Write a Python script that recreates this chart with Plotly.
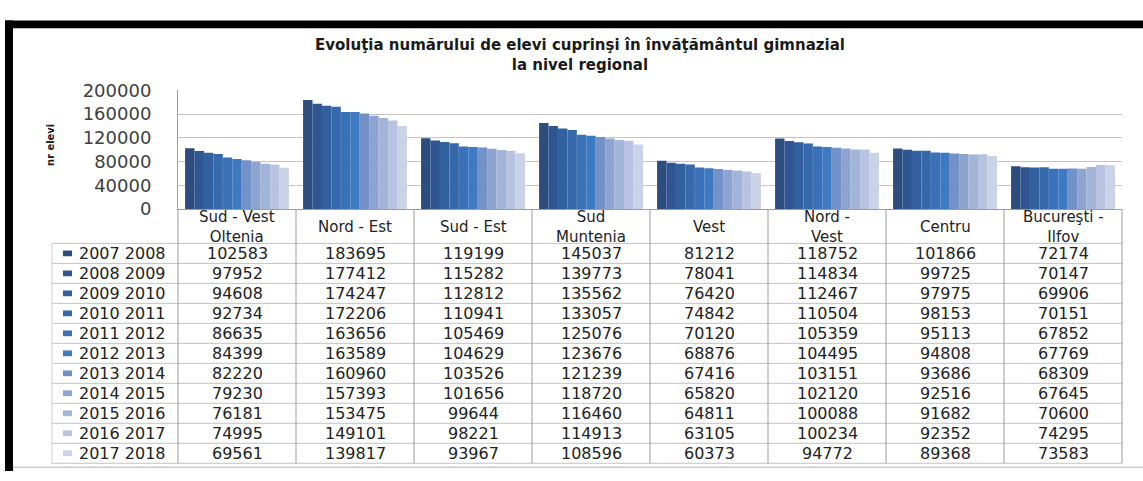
import plotly.graph_objects as go

# ---------------- data ----------------
regions = ["Sud - Vest Oltenia", "Nord - Est", "Sud - Est", "Sud Muntenia",
           "Vest", "Nord - Vest", "Centru", "Bucureşti - Ilfov"]
region_labels = ["Sud - Vest<br>Oltenia", "Nord - Est", "Sud - Est", "Sud<br>Muntenia",
                 "Vest", "Nord -<br>Vest", "Centru", "Bucureşti -<br>Ilfov"]
years = ["2007 2008", "2008 2009", "2009 2010", "2010 2011", "2011 2012", "2012 2013",
         "2013 2014", "2014 2015", "2015 2016", "2016 2017", "2017 2018"]

v_2007_2008 = [102583, 183695, 119199, 145037, 81212, 118752, 101866, 72174]
v_2008_2009 = [97952, 177412, 115282, 139773, 78041, 114834, 99725, 70147]
v_2009_2010 = [94608, 174247, 112812, 135562, 76420, 112467, 97975, 69906]
v_2010_2011 = [92734, 172206, 110941, 133057, 74842, 110504, 98153, 70151]
v_2011_2012 = [86635, 163656, 105469, 125076, 70120, 105359, 95113, 67852]
v_2012_2013 = [84399, 163589, 104629, 123676, 68876, 104495, 94808, 67769]
v_2013_2014 = [82220, 160960, 103526, 121239, 67416, 103151, 93686, 68309]
v_2014_2015 = [79230, 157393, 101656, 118720, 65820, 102120, 92516, 67645]
v_2015_2016 = [76181, 153475, 99644, 116460, 64811, 100088, 91682, 70600]
v_2016_2017 = [74995, 149101, 98221, 114913, 63105, 100234, 92352, 74295]
v_2017_2018 = [69561, 139817, 93967, 108596, 60373, 94772, 89368, 73583]

series = [v_2007_2008, v_2008_2009, v_2009_2010, v_2010_2011, v_2011_2012, v_2012_2013,
          v_2013_2014, v_2014_2015, v_2015_2016, v_2016_2017, v_2017_2018]

colors = ["#2C4D7E", "#2F5690", "#33609F", "#3668AC", "#3A71B8", "#3E7AC2",
          "#7390C7", "#8DA3D0", "#A3B4D9", "#B7C3E0", "#C9D2E6"]

title_text = "Evoluţia numărului de elevi cuprinşi în învăţământul gimnazial<br>la nivel regional"
y_title = "nr elevi"

# ---------------- layout helpers (pixel geometry) ----------------
W, H = 1143, 481
PLOT_L, PLOT_R, PLOT_T, PLOT_B = 178, 1122, 83, 207
TAB_L = 52
HEAD_B = 243
ROW_H = 20.9


def px(x):
    return x / W


def py(y):
    return 1 - y / H


fig = go.Figure()

for name, vals, col in zip(years, series, colors):
    fig.add_trace(go.Bar(x=regions, y=vals, name=name,
                         marker=dict(color=col, line=dict(width=0)),
                         showlegend=False))

annotations = []
shapes = []

ncat = len(regions)
nrow = len(years)
cat_w = (PLOT_R - PLOT_L) / ncat
tab_bottom = HEAD_B + nrow * ROW_H

# ---- table grid lines ----
hline_col = "#C2C2C2"
vline_col = "#9C9C9C"
for k in range(nrow + 1):
    y = HEAD_B + k * ROW_H
    shapes.append(dict(type="line", xref="paper", yref="paper",
                       x0=px(TAB_L), x1=px(PLOT_R), y0=py(y), y1=py(y),
                       line=dict(color=hline_col, width=1)))
for i in range(ncat + 1):
    x = PLOT_L + i * cat_w
    shapes.append(dict(type="line", xref="paper", yref="paper",
                       x0=px(x), x1=px(x), y0=py(PLOT_B), y1=py(tab_bottom),
                       line=dict(color=vline_col, width=1)))
shapes.append(dict(type="line", xref="paper", yref="paper",
                   x0=px(TAB_L), x1=px(TAB_L), y0=py(HEAD_B), y1=py(tab_bottom),
                   line=dict(color="#CFCFCF", width=1)))

# ---- header labels (category names) ----
for r, lab in zip(regions, region_labels):
    annotations.append(dict(x=r, xref="x", y=py(225.5), yref="paper", text=lab,
                            showarrow=False, xanchor="center", yanchor="middle",
                            font=dict(family="DejaVu Sans", size=15, color="#222222")))

# ---- table body ----
for k, (yr, vals, col) in enumerate(zip(years, series, colors)):
    yc = HEAD_B + (k + 0.5) * ROW_H
    shapes.append(dict(type="rect", xref="paper", yref="paper",
                       x0=px(63), x1=px(72), y0=py(yc + 3), y1=py(yc - 3),
                       fillcolor=col, line=dict(width=0)))
    annotations.append(dict(x=px(77), y=py(yc), xref="paper", yref="paper", text=yr,
                            showarrow=False, xanchor="left", yanchor="middle",
                            font=dict(family="DejaVu Sans", size=16, color="#222222")))
    for r, v in zip(regions, vals):
        annotations.append(dict(x=r, xref="x", y=py(yc), yref="paper", text=str(v),
                                showarrow=False, xanchor="center", yanchor="middle",
                                font=dict(family="DejaVu Sans", size=16, color="#222222")))

# ---- titles ----
annotations.append(dict(x=px(580), y=py(46.5), xref="paper", yref="paper",
                        text="<b>" + title_text.replace("<br>", "</b><br><b>") + "</b>",
                        showarrow=False, xanchor="center", yanchor="middle",
                        font=dict(family="DejaVu Sans", size=15, color="#1a1a1a")))
annotations.append(dict(x=px(51), y=py(140), xref="paper", yref="paper",
                        text="<b>" + y_title + "</b>", textangle=-90,
                        showarrow=False, xanchor="center", yanchor="middle",
                        font=dict(family="DejaVu Sans Condensed, DejaVu Sans", size=11,
                                  color="#1a1a1a")))

# ---- frame ----
shapes += [
    dict(type="rect", xref="paper", yref="paper", x0=px(5), x1=px(13), y0=0, y1=py(10),
         fillcolor="black", line=dict(width=0)),
    dict(type="rect", xref="paper", yref="paper", x0=px(5), x1=1, y0=py(18), y1=py(10),
         fillcolor="black", line=dict(width=0)),
    dict(type="line", xref="paper", yref="paper", x0=px(13), x1=1, y0=py(477), y1=py(477),
         line=dict(color="#B0B0B0", width=1)),
]

fig.update_layout(
    width=W, height=H,
    margin=dict(l=0, r=0, t=0, b=0),
    paper_bgcolor="white", plot_bgcolor="white",
    barmode="group", bargap=0.12, bargroupgap=0,
    xaxis=dict(domain=[px(PLOT_L), px(PLOT_R)], showticklabels=False, showgrid=False,
               showline=True, linecolor="#9C9C9C", linewidth=1,
               categoryorder="array", categoryarray=regions, fixedrange=True),
    yaxis=dict(domain=[py(PLOT_B), py(PLOT_T)], range=[0, 200000], dtick=40000,
               tickformat="d", showgrid=True, gridcolor="#C4C4C4", gridwidth=1,
               showline=True, linecolor="#A0A0A0", linewidth=1, zeroline=False,
               ticks="", ticklabelstandoff=22,
               tickfont=dict(family="DejaVu Sans", size=18, color="#404040"),
               fixedrange=True),
    annotations=annotations,
    shapes=shapes,
)

fig.write_html("out.html", config={"displayModeBar": False},
               post_script="document.body.style.margin='0';document.body.style.overflow='hidden';")
